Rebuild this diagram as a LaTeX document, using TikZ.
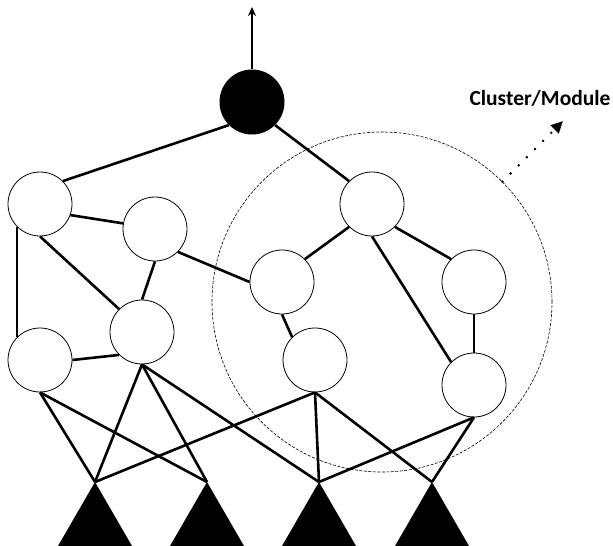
\documentclass[tikz,border=0pt]{standalone}
\usepackage{fontspec}
\setmainfont{Carlito}
\usepackage{tikz}
\usetikzlibrary{shapes,arrows,positioning,calc,arrows.meta}

\tikzset{
    unit/.style={circle, draw, line width=0.8pt, fill=white, minimum size=64pt, inner sep=0pt},
    outunit/.style={circle, fill=black, minimum size=65pt, inner sep=0pt},
    link/.style={line width=2.6pt},
    cluster/.style={circle, draw, line width=0.6pt, dash pattern=on 3pt off 1.5pt, minimum size=340pt, inner sep=0pt},
    port/.style={fill=black}
}

\begin{document}
\begin{tikzpicture}[x=1pt, y=-1pt]
    \useasboundingbox (0,0) rectangle (613,546);
    % module boundary and its label
    \node[cluster] (cl) at (382,302) {};
    \node[font=\bfseries\fontsize{21.5}{24}\selectfont] (lbl) at (540,98) {Cluster/Module};
    \coordinate (tip) at (563,121);
    \draw[line width=2.8pt, line cap=round, dash pattern=on 0pt off 11.5pt, -{Triangle[length=12pt,width=11pt]}] (cl.45) -- (tip);

    % units
    \node[outunit] (top) at (252,102) {};
    \node[unit] (a) at (40,204) {};
    \node[unit] (b) at (155,229) {};
    \node[unit] (c) at (40,360) {};
    \node[unit] (d) at (142,332) {};
    \node[unit] (e) at (282,282) {};
    \node[unit] (f) at (372,204) {};
    \node[unit] (g) at (474,282) {};
    \node[unit] (h) at (315,360) {};
    \node[unit] (i) at (474,385) {};

    % output
    \coordinate (out) at (252,7);
    \draw[line width=2.2pt, -{Stealth[length=9pt,width=8pt]}] (top.north) -- (out);

    % input ports
    \foreach \n/\x in {1/95, 2/207, 3/319, 4/432} {
        \coordinate (in\n) at (\x,482);
        \fill[port] (in\n) -- ++(-37,64) -- ++(74,0) -- cycle;
    }

    % connections
    \draw[link] (top.225) -- (a.45);
    \draw[link] (top.-45) -- (f.135);
    \draw[link] (a.-20) -- (b.170);
    \draw[link] (a.225) -- (c.135);
    \draw[link] (a.south) -- (d.135);
    \draw[link] (b.south) -- (d.north);
    \draw[link] (c.east) -- (d.225);
    \draw[link] (b.-45) -- (e.west);
    \draw[link] (e.45) -- (f.225);
    \draw[link] (e.south) -- (h.135);
    \draw[link] (f.-45) -- (g.135);
    \draw[link] (f.south) -- (i.135);
    \draw[link] (g.south) -- (i.north);

    \draw[link] (c.south) -- (in1);
    \draw[link] (c.south) -- (in2);
    \draw[link] (d.south) -- (in1);
    \draw[link] (d.south) -- (in2);
    \draw[link] (d.south) -- (in3);
    \draw[link] (h.south) -- (in1);
    \draw[link] (h.south) -- (in3);
    \draw[link] (h.south) -- (in4);
    \draw[link] (i.south) -- (in3);
    \draw[link] (i.south) -- (in4);
\end{tikzpicture}
\end{document}
